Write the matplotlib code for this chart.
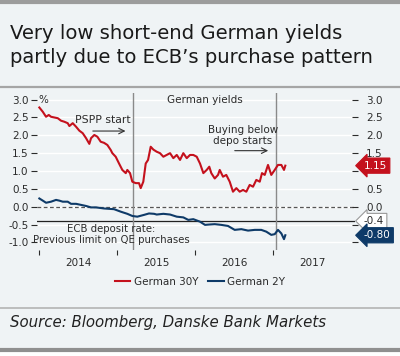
import matplotlib
matplotlib.use("Agg")
import matplotlib.pyplot as plt
from matplotlib.lines import Line2D

# ---------------- data ----------------
title = "Very low short-end German yields\npartly due to ECB\u2019s purchase pattern"
source = "Source: Bloomberg, Danske Bank Markets"
series_names = ["German 30Y", "German 2Y"]
year_ticks = [2014, 2015, 2016, 2017]
year_labels = ["2014", "2015", "2016", "2017"]
y_ticks = [-1.0, -0.5, 0.0, 0.5, 1.0, 1.5, 2.0, 2.5, 3.0]
right_hidden = [-1.0, -0.5, 1.0]   # right-axis labels covered by value tags

# decimal-year dates and yields (%)
t30 = [2014.000, 2014.044, 2014.086, 2014.121, 2014.150, 2014.192, 2014.236, 2014.278,
       2014.321, 2014.364, 2014.385, 2014.428, 2014.471, 2014.513, 2014.556, 2014.599,
       2014.641, 2014.663, 2014.705, 2014.744, 2014.787, 2014.829, 2014.872, 2014.915,
       2014.936, 2014.979, 2015.022, 2015.064, 2015.108, 2015.128, 2015.163, 2015.192,
       2015.236, 2015.278, 2015.300, 2015.333, 2015.364, 2015.394, 2015.428, 2015.462,
       2015.505, 2015.547, 2015.590, 2015.633, 2015.676, 2015.718, 2015.762, 2015.804,
       2015.846, 2015.890, 2015.932, 2015.974, 2016.018, 2016.060, 2016.103, 2016.146,
       2016.179, 2016.205, 2016.249, 2016.291, 2016.313, 2016.355, 2016.397, 2016.441,
       2016.483, 2016.526, 2016.569, 2016.612, 2016.654, 2016.697, 2016.740, 2016.782,
       2016.826, 2016.855, 2016.890, 2016.932, 2016.974, 2017.018, 2017.060, 2017.103,
       2017.137, 2017.154]
v30 = [2.78, 2.66, 2.52, 2.57, 2.52, 2.50, 2.48, 2.41,
       2.38, 2.34, 2.26, 2.34, 2.24, 2.13, 2.06, 1.92,
       1.76, 1.92, 2.01, 1.96, 1.82, 1.79, 1.73, 1.59,
       1.50, 1.40, 1.21, 1.03, 0.94, 1.03, 0.94, 0.70,
       0.66, 0.66, 0.52, 0.70, 1.21, 1.31, 1.68, 1.60,
       1.54, 1.50, 1.40, 1.45, 1.50, 1.36, 1.45, 1.31,
       1.50, 1.36, 1.45, 1.45, 1.40, 1.21, 0.94, 1.03,
       1.12, 0.94, 0.79, 0.89, 1.03, 0.84, 0.89, 0.70,
       0.42, 0.52, 0.42, 0.47, 0.42, 0.61, 0.56, 0.75,
       0.70, 0.94, 0.89, 1.17, 0.89, 1.03, 1.17, 1.17,
       1.03, 1.15]

t2 = [2014.000, 2014.044, 2014.086, 2014.150, 2014.214, 2014.256, 2014.300, 2014.364,
      2014.406, 2014.471, 2014.535, 2014.599, 2014.663, 2014.727, 2014.829, 2014.958,
      2015.044, 2015.128, 2015.192, 2015.256, 2015.342, 2015.406, 2015.471, 2015.505,
      2015.590, 2015.676, 2015.762, 2015.846, 2015.910, 2015.974, 2016.060, 2016.124,
      2016.179, 2016.249, 2016.333, 2016.419, 2016.505, 2016.590, 2016.676, 2016.762,
      2016.846, 2016.910, 2016.974, 2017.018, 2017.060, 2017.103, 2017.137, 2017.154]
v2 = [0.23, 0.17, 0.11, 0.14, 0.19, 0.17, 0.14, 0.14,
      0.08, 0.08, 0.05, 0.02, -0.02, -0.02, -0.05, -0.07,
      -0.14, -0.20, -0.26, -0.28, -0.23, -0.19, -0.20, -0.22,
      -0.20, -0.22, -0.28, -0.30, -0.37, -0.35, -0.42, -0.51,
      -0.50, -0.49, -0.51, -0.54, -0.65, -0.63, -0.67, -0.65,
      -0.65, -0.70, -0.79, -0.77, -0.65, -0.75, -0.91, -0.80]

ecb_depo_limit = -0.4
pspp_start = 2015.197
buying_below_depo = 2017.035
last_30 = 1.15
last_2 = -0.80

# ---------------- style ----------------
BG = "#eff3f5"
RED = "#c4111d"
NAVY = "#0e3a68"
TXT = "#2b2b2b"
plt.rcParams["font.family"] = ["DejaVu Sans"]

W, H = 400, 356
fig = plt.figure(figsize=(4.0, 3.56), dpi=100, facecolor=BG)

def fy(py):
    return 1 - py / H

# horizontal rules
for py, lw, col in [(1.5, 3.0, "#9c9c9c"), (86.5, 1.6, "#a5a5a5"),
                    (307.5, 1.2, "#b4b4b4"), (349.5, 3.0, "#8f8f8f")]:
    fig.add_artist(Line2D([0, 1], [fy(py), fy(py)], transform=fig.transFigure,
                          color=col, lw=lw))
fig.add_artist(plt.Rectangle((0, 0), 1, fy(351.5), transform=fig.transFigure,
                             color="white", zorder=0))

fig.text(10 / W, fy(45.5), title, ha="left", va="center", fontsize=14.1,
         color="#1a1a1a", linespacing=1.3)
fig.text(10 / W, fy(322), source, ha="left", va="center", fontsize=10.8,
         style="italic", color="#222222")

# axes
x0, x1 = 37, 355.2
ytop, ybot = 92.5, 249.5
ax = fig.add_axes([x0 / W, fy(ybot), (x1 - x0) / W, (ybot - ytop) / H])
ax.set_facecolor(BG)
ax.set_xlim(2013.97, 2018.05)
ax.set_ylim(-1.2, 3.2)
for s in ax.spines.values():
    s.set_visible(False)

ax.set_yticks(y_ticks)
ax.set_yticklabels([f"{v:.1f}" for v in y_ticks])
ax.yaxis.grid(True, color="white", lw=1.0)
ax.set_axisbelow(True)
ax.tick_params(axis="y", direction="out", length=4, width=0.8, color=TXT,
               labelsize=7.5, labelcolor=TXT, pad=2)

ax.set_xticks(year_ticks)
ax.set_xticklabels([])
ax.set_xticks([y + 0.5 for y in year_ticks], minor=True)
ax.set_xticklabels(year_labels, minor=True)
ax.tick_params(axis="x", which="major", direction="out", length=3.5, width=0.8,
               color=TXT, pad=2)
ax.tick_params(axis="x", which="minor", length=0, labelsize=7.5,
               labelcolor=TXT, pad=6)

ax2 = ax.twinx()
ax2.set_ylim(ax.get_ylim())
ax2.set_yticks(y_ticks)
ax2.set_yticklabels(["" if v in right_hidden else f"{v:.1f}" for v in y_ticks])
for s in ax2.spines.values():
    s.set_visible(False)
ax2.tick_params(axis="y", direction="inout", length=4, width=0.8, color=TXT,
                labelsize=7.5, labelcolor=TXT, pad=6)

# reference lines
ax.axhline(0.0, color="#555555", lw=0.9, ls=(0, (3, 2)), zorder=2)
ax.axhline(ecb_depo_limit, color="#222222", lw=0.9, zorder=2)
ax.axvline(pspp_start, color="#8a8a8a", lw=1.0, zorder=2)
ax.axvline(buying_below_depo, color="#8a8a8a", lw=1.0, zorder=2)

# series
l30, = ax.plot(t30, v30, color=RED, lw=1.5, zorder=3, label=series_names[0])
l2, = ax.plot(t2, v2, color=NAVY, lw=1.5, zorder=3, label=series_names[1])

# annotations
ax.text(2013.985, 3.0, "%", ha="left", va="center", fontsize=7.5, color=TXT)
ax.text(2016.12, 3.0, "German yields", ha="center", va="center", fontsize=7.5,
        color=TXT)
ax.text(2014.82, 2.43, "PSPP start", ha="center", va="center", fontsize=7.8,
        color=TXT)
ax.annotate("", xy=(2015.14, 2.12), xytext=(2014.65, 2.12),
            arrowprops=dict(arrowstyle="->", color="#333333", lw=0.8))
ax.text(2016.61, 2.0, "Buying below\ndepo starts", ha="center", va="center",
        fontsize=7.5, color=TXT, linespacing=1.15)
ax.annotate("", xy=(2016.97, 1.57), xytext=(2016.47, 1.57),
            arrowprops=dict(arrowstyle="->", color="#333333", lw=0.8))
ax.text(2014.92, -0.78, "ECB deposit rate:\nPrevious limit on QE purchases",
        ha="center", va="center", fontsize=7.3, color=TXT, linespacing=1.1)

# right-hand value tags
def tag(val, txt, fc, ec, tc):
    py = 206.7 - val * 35.7
    fig.text(364 / W, fy(py), txt, ha="left", va="center", fontsize=7.5,
             color=tc, zorder=5,
             bbox=dict(boxstyle="larrow,pad=0.25", fc=fc, ec=ec, lw=0.8))

tag(last_30, f"{last_30:.2f}", RED, RED, "white")
tag(ecb_depo_limit, f"{ecb_depo_limit:.1f}", "white", "#999999", TXT)
tag(last_2, f"{last_2:.2f}", NAVY, NAVY, "white")

fig.legend(handles=[l30, l2], loc="center", bbox_to_anchor=(0.5, fy(282)),
           ncol=2, frameon=False, fontsize=7.5, handlelength=1.5,
           handletextpad=0.3, columnspacing=1.0, labelcolor=TXT)

fig.savefig("out.png", dpi=100, facecolor=BG)
